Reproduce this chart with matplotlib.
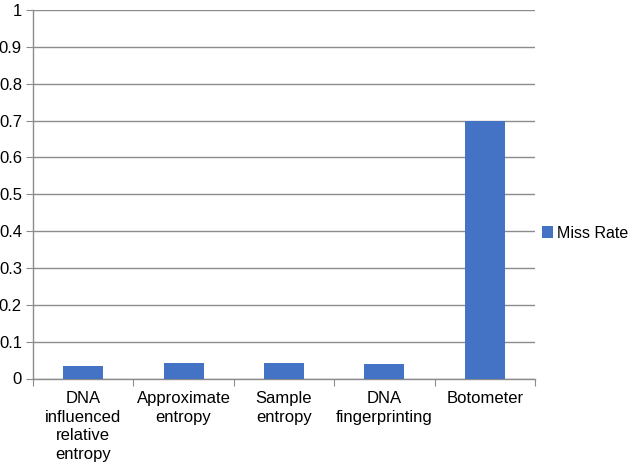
import matplotlib
matplotlib.use("Agg")
import matplotlib.pyplot as plt
import numpy as np

categories = ["DNA\ninfluenced\nrelative\nentropy", "Approximate\nentropy", "Sample\nentropy",
              "DNA\nfingerprinting", "Botometer"]
miss_rate = [0.034, 0.041, 0.041, 0.038, 0.70]
yticks = [0, 0.1, 0.2, 0.3, 0.4, 0.5, 0.6, 0.7, 0.8, 0.9, 1]
ytick_labels = ["0", "0.1", "0.2", "0.3", "0.4", "0.5", "0.6", "0.7", "0.8", "0.9", "1"]

plt.rcParams['font.family'] = ['Liberation Sans', 'DejaVu Sans']
fig = plt.figure(figsize=(6.29, 4.68), dpi=100)
W, H = 629, 468
ax = fig.add_axes([33 / W, 1 - 378.5 / H, (535 - 33) / W, (378.5 - 10) / H])

x = np.arange(len(categories))
bars = ax.bar(x, miss_rate, width=0.4, color="#4472C4", label="Miss Rate", zorder=3)

FS = 12
ax.set_xlim(-0.5, len(categories) - 0.5)
ax.set_ylim(0, 1)
ax.set_yticks(yticks)
ax.set_yticklabels(ytick_labels, fontsize=FS)
ax.yaxis.grid(True, color="#8c8c8c", linewidth=1, zorder=0)
ax.tick_params(axis="y", length=5, color="#8c8c8c", pad=3)

ax.set_xticks(np.arange(-0.5, len(categories), 1.0))
ax.set_xticklabels([])
ax.tick_params(axis="x", length=5, color="#8c8c8c")
ax.set_xticks(x, minor=True)
ax.set_xticklabels(categories, minor=True, fontsize=FS, va="top", linespacing=1.3)
ax.tick_params(axis="x", which="minor", length=0, pad=9)

for s in ["top", "right"]:
    ax.spines[s].set_visible(False)
for s in ["left", "bottom"]:
    ax.spines[s].set_color("#8c8c8c")
    ax.spines[s].set_linewidth(1)

fig.legend(handles=[bars], labels=["Miss Rate"], loc="center left",
           bbox_to_anchor=(542 / W, 1 - 233 / H), frameon=False, fontsize=11.5,
           borderpad=0, borderaxespad=0,
           handlelength=0.7, handleheight=0.7, handletextpad=0.25)

fig.savefig("out.png", dpi=100)
